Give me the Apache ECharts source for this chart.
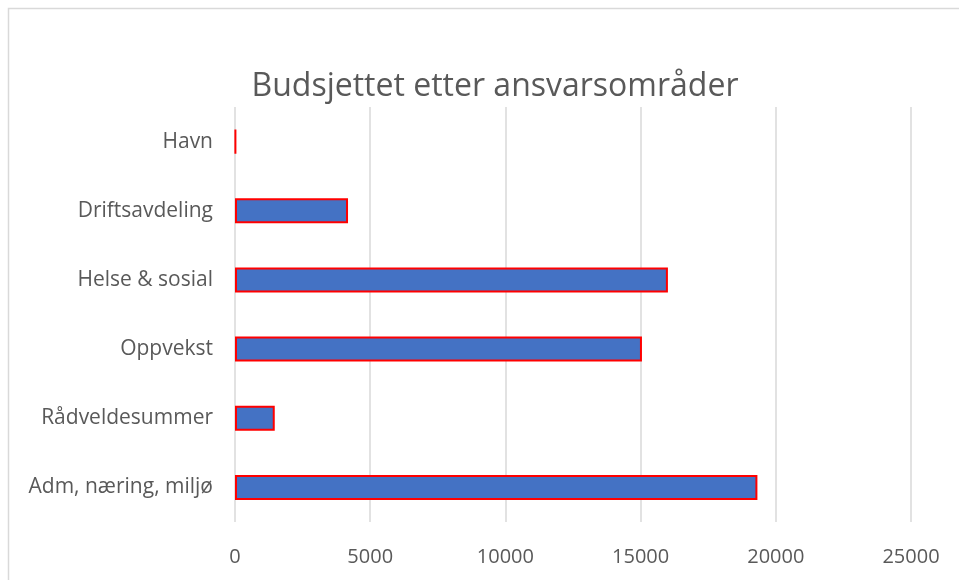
<!DOCTYPE html>
<html>
<head>
<meta charset="utf-8">
<script src="https://cdn.jsdelivr.net/npm/echarts@6/dist/echarts.min.js"></script>
<style>html,body{margin:0;padding:0;background:#fff;}#c{width:959px;height:580px;}</style>
</head>
<body>
<div id="c"></div>
<script>
var categories = ["Havn", "Driftsavdeling", "Helse & sosial", "Oppvekst", "Rådveldesummer", "Adm, næring, miljø"];
var values = [30, 4180, 16010, 15050, 1470, 19320];
var chartTitle = "Budsjettet etter ansvarsområder";

var chart = echarts.init(document.getElementById('c'), null, {renderer: 'canvas'});
chart.setOption({
  backgroundColor: '#ffffff',
  animation: false,
  title: {
    text: chartTitle,
    left: 490, top: 66, textAlign: 'center',
    textStyle: {fontFamily: 'Open Sans', fontSize: 32, fontWeight: 'normal', color: '#595959'}
  },
  graphic: [{
    type: 'rect', shape: {x: 8.5, y: 8.5, width: 1000, height: 1000},
    style: {fill: 'none', stroke: '#d9d9d9', lineWidth: 1.5}, silent: true, z: -1
  }],
  grid: {left: 235, right: 48, top: 107, bottom: 58, containLabel: false},
  xAxis: {
    type: 'value', min: 0, max: 25000, interval: 5000,
    axisLine: {show: false}, axisTick: {show: false},
    splitLine: {show: true, lineStyle: {color: '#d9d9d9', width: 1.5}},
    axisLabel: {color: '#595959', fontFamily: 'Open Sans', fontSize: 20, margin: 25,
      formatter: function (v) { return String(v); }}
  },
  yAxis: {
    type: 'category', data: categories, inverse: true,
    axisLine: {show: false}, axisTick: {show: false},
    axisLabel: {color: '#595959', fontFamily: 'Open Sans', fontSize: 21, margin: 22}
  },
  series: [{
    type: 'bar', data: values, barWidth: 25,
    itemStyle: {color: '#4472C4', borderColor: '#ff0000', borderWidth: 2}
  }]
});
</script>
</body>
</html>
